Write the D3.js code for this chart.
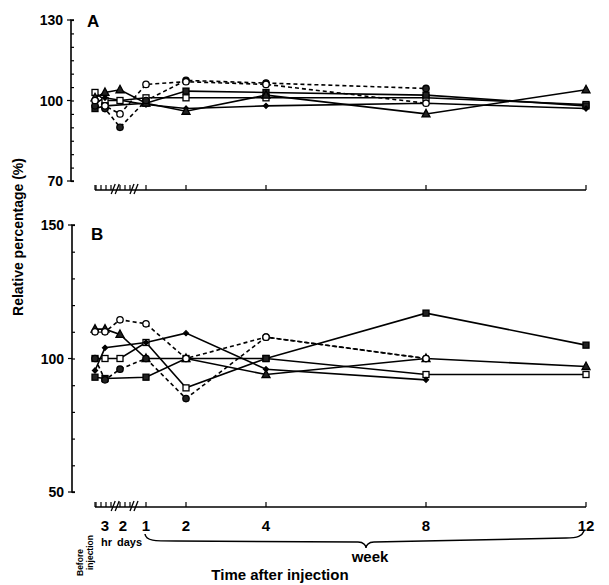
<!DOCTYPE html>
<html><head><meta charset="utf-8">
<script src="https://cdn.jsdelivr.net/npm/d3@7"></script>
<style>body{margin:0;background:#fff}svg{font-family:"Liberation Sans",Arial,sans-serif;font-weight:bold}</style>
</head><body><svg id="c" width="609" height="585"></svg>
<script>
// time points (x position in "week" units; early points squeezed before week 1)
const timeLabels = ["Before injection","3 hr","2 days","1 wk","2 wk","4 wk","8 wk","12 wk"];
const timePos = [-0.275, -0.025, 0.35, 1, 2, 4, 8, 12];
const tickLabels = ["3","2","1","2","4","8","12"];
const tickLabelPos = [-0.025, 0.42, 1, 2, 4, 8, 12];
const minorTicks = [-0.25, -0.125, 0, 0.125, 0.35, 0.475, 0.6, 1, 2, 4, 8, 12];
const breakPos = [0.23, 0.7];

// Panel A
const A_triangle   = [101, 103, 104, 99, 96, 102, 95, 104];
const A_openCircle = [100, 98, 95, 106, 107, 106, 99, null];
const A_fillCircle = [98, 97, 90, 100, 107.5, 106.5, 104.5, null];
const A_openSquare = [103, 100, 100, 101, 101, 101, 101, 98.5];
const A_fillSquare = [97, 98, null, 99, 103.5, 103, 102, 98];
const A_diamond    = [99, 101, null, 98.5, 97, 98, 99, 97];

// Panel B
const B_triangle   = [111, 111, 109, 100, 100, 94, 100, 97];
const B_fillSquare = [93, 92.5, null, 93, 100, 100, 117, 105];
const B_openSquare = [100, 100, 100, 106, 89, 100, 94, 94];
const B_diamond    = [95.5, 104, null, 106, 109.5, 96, 92, null];
const B_openCircle = [110, 110, 114.5, 113, 100, 108, 100, null];
const B_fillCircle = [100, 92, 96, 100, 85, 108, 100, null];

const panelA = [
  {v:A_openSquare, m:"osq", dash:false},
  {v:A_fillSquare, m:"fsq", dash:false},
  {v:A_diamond, m:"dia", dash:false},
  {v:A_triangle, m:"tri", dash:false},
  {v:A_fillCircle, m:"fci", dash:true},
  {v:A_openCircle, m:"oci", dash:true}
];
const panelB = [
  {v:B_openSquare, m:"osq", dash:false},
  {v:B_fillSquare, m:"fsq", dash:false},
  {v:B_diamond, m:"dia", dash:false},
  {v:B_triangle, m:"tri", dash:false},
  {v:B_fillCircle, m:"fci", dash:true},
  {v:B_openCircle, m:"oci", dash:true}
];

const svg = d3.select("#c");
const x = d3.scaleLinear().domain([1, 12]).range([146, 586]);

function drawPanel(cfg){
  const y = d3.scaleLinear().domain(cfg.dom).range(cfg.range);
  const g = svg.append("g");
  const ax = g.append("g").attr("transform",`translate(${cfg.axX},0)`)
    .call(d3.axisRight(y).tickValues(d3.range(cfg.dom[0], cfg.dom[1]+0.01, cfg.step)).tickSize(3).tickFormat(""));
  ax.select(".domain").attr("d",`M3,${cfg.range[0]}H0V${cfg.range[1]}H3`).attr("stroke","#000").attr("stroke-width",1.6);
  ax.selectAll(".tick line").attr("stroke-width",1.2);
  cfg.labels.forEach(v=>{
    g.append("text").attr("x",cfg.axX-8).attr("y",y(v)+5).attr("text-anchor","end").attr("font-size",14).text(v);
    g.append("line").attr("x1",cfg.axX-4).attr("x2",cfg.axX).attr("y1",y(v)).attr("y2",y(v)).attr("stroke","#000").attr("stroke-width",1.2);
  });
  g.append("text").attr("x",cfg.lx).attr("y",cfg.ly).attr("font-size",17).text(cfg.letter);
  const xa = g.append("g");
  xa.append("line").attr("x1",x(-0.275)).attr("x2",x(12)).attr("y1",cfg.xAxY).attr("y2",cfg.xAxY).attr("stroke","#000").attr("stroke-width",1.6);
  xa.selectAll("line.t").data(minorTicks.concat([-0.275])).join("line").attr("class","t")
    .attr("x1",d=>x(d)).attr("x2",d=>x(d)).attr("y1",cfg.xAxY).attr("y2",cfg.xAxY-5).attr("stroke","#000").attr("stroke-width",1.2);
  breakPos.forEach(b=>{
    [-2,2].forEach(o=>{
      xa.append("line").attr("x1",x(b)+o-2).attr("x2",x(b)+o+2).attr("y1",cfg.xAxY+4).attr("y2",cfg.xAxY-6).attr("stroke","#000").attr("stroke-width",1.3);
    });
  });
  const line = d3.line().x(d=>x(d.t)).y(d=>y(d.v));
  cfg.data.forEach(s=>{
    const pts = s.v.map((v,i)=>({t:timePos[i],v})).filter(d=>d.v!=null);
    g.append("path").datum(pts).attr("d",line).attr("fill","none").attr("stroke","#000")
      .attr("stroke-width",1.6).attr("stroke-dasharray",s.dash?"4,3":null);
  });
  cfg.data.forEach(s=>{
    const pts = s.v.map((v,i)=>({t:timePos[i],v})).filter(d=>d.v!=null);
    pts.forEach(p=>drawMarker(g, x(p.t), y(p.v), s.m));
  });
}
function drawMarker(g,cx,cy,m){
  let el;
  if(m==="osq"||m==="fsq") el=g.append("rect").attr("x",cx-3).attr("y",cy-3).attr("width",6).attr("height",6).attr("fill",m==="osq"?"#fff":"#222");
  else if(m==="oci"||m==="fci") el=g.append("circle").attr("cx",cx).attr("cy",cy).attr("r",3.2).attr("fill",m==="oci"?"#fff":"#222");
  else if(m==="tri") el=g.append("path").attr("d",`M${cx},${cy-4.5}L${cx+4},${cy+3}L${cx-4},${cy+3}Z`).attr("fill","#222");
  else el=g.append("path").attr("d",`M${cx},${cy-2.5}L${cx+2.5},${cy}L${cx},${cy+2.5}L${cx-2.5},${cy}Z`).attr("fill","#000");
  el.attr("stroke","#000").attr("stroke-width",1.3);
}

drawPanel({dom:[70,130], range:[181,20], step:5, labels:[130,100,70], axX:71, xAxY:190, letter:"A", lx:87, ly:27, data:panelA});
drawPanel({dom:[50,150], range:[492,225], step:10, labels:[150,100,50], axX:72, xAxY:507, letter:"B", lx:91, ly:240, data:panelB});

svg.append("text").attr("transform","translate(23,237) rotate(-90)").attr("text-anchor","middle").attr("font-size",14).text("Relative percentage (%)");

svg.selectAll("text.xl").data(tickLabels).join("text").attr("class","xl")
  .attr("x",(d,i)=>x(tickLabelPos[i])).attr("y",531).attr("text-anchor","middle").attr("font-size",15).text(d=>d);
svg.append("text").attr("x",x(-0.025)-4).attr("y",546).attr("font-size",11).text("hr");
svg.append("text").attr("x",x(0.3)-1).attr("y",546).attr("font-size",11).text("days");
svg.append("text").attr("transform",`translate(${x(-0.275)-12},576) rotate(-90)`).attr("font-size",8.5).text("Before");
svg.append("text").attr("transform",`translate(${x(-0.275)-2},570) rotate(-90)`).attr("font-size",8.5).text("injection");
const bx0 = x(1), bx1 = x(12), bm = 366;
svg.append("path").attr("d",`M${bx0-1},534 C${bx0},541 ${bx0+8},541 ${bx0+30},541 L${bm-8},542 C${bm-2},542 ${bm},546 ${bm},548 C${bm},546 ${bm+2},542 ${bm+8},542 L${bx1-20},538 C${bx1-8},538 ${bx1-4},536 ${bx1-2},531`)
  .attr("fill","none").attr("stroke","#000").attr("stroke-width",1.5);
svg.append("text").attr("x",370).attr("y",562).attr("text-anchor","middle").attr("font-size",15).text("week");
svg.append("text").attr("x",280).attr("y",580).attr("text-anchor","middle").attr("font-size",15).text("Time after injection");
</script></body></html>
